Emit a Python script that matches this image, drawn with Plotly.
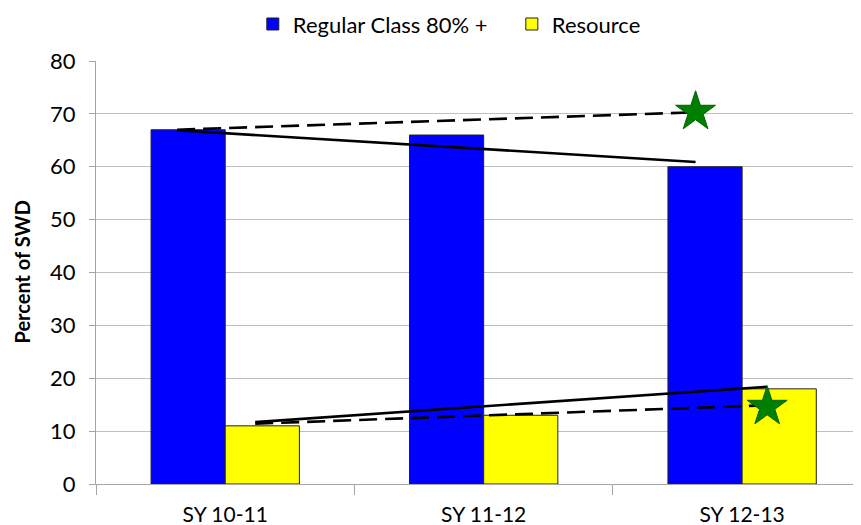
import plotly.graph_objects as go

categories = ["SY 10-11", "SY 11-12", "SY 12-13"]
regular = [67, 66, 60]
resource = [11, 13, 18]

# trend lines (start value, end value)
regular_trend_solid = [66.9, 60.9]
regular_trend_dashed = [67.0, 70.3]
resource_trend_solid = [11.7, 18.4]
resource_trend_dashed = [11.4, 14.9]
# star targets
regular_target = 70.4
resource_target = 14.6

FONT = "Lato"
x_range = [-0.5, 2.46]

fig = go.Figure()
fig.add_trace(go.Bar(x=categories, y=regular, name="Regular Class 80% +",
                     marker=dict(color="#0000FF", line=dict(color="#222222", width=1))))
fig.add_trace(go.Bar(x=categories, y=resource, name="Resource",
                     marker=dict(color="#FFFF00", line=dict(color="#222222", width=1))))

blue_start, blue_end = 0 - 0.186, 2 - 0.18
yel_start, yel_end = 0 + 0.116, 2 + 0.097

def line(xs, ys, dash):
    fig.add_trace(go.Scatter(x=xs, y=ys, mode="lines", xaxis="x2", showlegend=False,
                             line=dict(color="black", width=2.6, dash=dash), hoverinfo="skip"))

line([blue_start, blue_end], regular_trend_dashed, "18px,8px")
line([blue_start, blue_end], regular_trend_solid, "solid")
line([yel_start, yel_end], resource_trend_dashed, "18px,8px")
line([yel_start, yel_end], resource_trend_solid, "solid")

fig.add_trace(go.Scatter(x=[blue_end, yel_end], y=[regular_target, resource_target], xaxis="x2",
                         mode="markers", showlegend=False,
                         marker=dict(symbol="star", size=30, color="#008000",
                                     line=dict(color="#006000", width=1))))

fig.update_layout(
    width=853, height=517,
    margin=dict(l=88, r=0, t=53, b=41, autoexpand=False),
    paper_bgcolor="white", plot_bgcolor="white",
    barmode="group", bargap=0.426, bargroupgap=0,
    font=dict(family=FONT, size=21, color="black"),
    legend=dict(orientation="h", x=0.205, xanchor="left", y=1.087, yanchor="middle",
                font=dict(family=FONT, size=22), itemwidth=30, traceorder="normal",
                entrywidth=214),
    xaxis=dict(type="category", range=x_range, tickson="boundaries", ticks="outside",
               ticklen=10, tickcolor="#a6a6a6", showline=True, linecolor="#a6a6a6",
               linewidth=1, showgrid=False, tickfont=dict(size=21), ticklabelstandoff=12),
    xaxis2=dict(range=x_range, overlaying="x", visible=False),
    yaxis=dict(range=[0, 80], dtick=10, ticks="outside", ticklen=6, tickcolor="#a6a6a6",
               showline=True, linecolor="#a6a6a6", linewidth=1, showgrid=True,
               gridcolor="#bfbfbf", gridwidth=1, zeroline=False, tickfont=dict(size=22),
               ticklabelstandoff=9),
    annotations=[dict(text="<b>Percent of SWD</b>", textangle=-90, xref="paper", yref="paper",
                      x=-(88 - 13) / 765, y=0.5, xanchor="center", yanchor="middle",
                      showarrow=False, font=dict(family=FONT, size=20))],
)

fig.write_html("out.html")
